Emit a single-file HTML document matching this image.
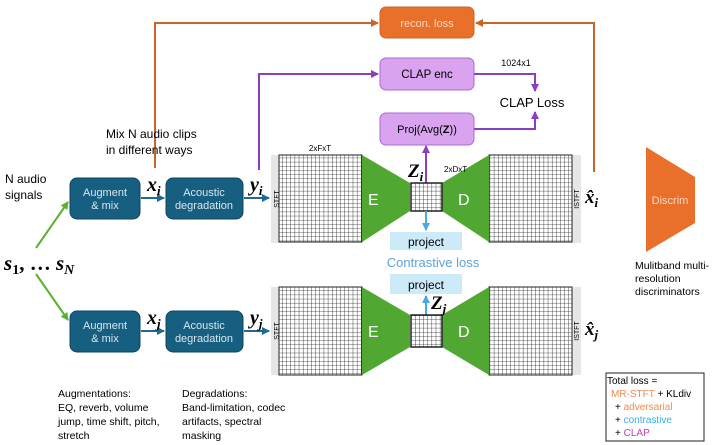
<!DOCTYPE html>
<html><head><meta charset="utf-8"><style>
body{margin:0;background:#fff;}
svg{display:block;font-family:"Liberation Sans",sans-serif;}
</style></head><body>
<svg width="718" height="445" viewBox="0 0 718 445" xmlns="http://www.w3.org/2000/svg">
<defs>
<pattern id="g" width="4.15" height="4.15" patternUnits="userSpaceOnUse"><rect width="4.15" height="4.15" fill="#fff"/><path d="M0 0H4.15M0 0V4.15" stroke="#222" stroke-width="0.8"/></pattern>
<marker id="aB" markerWidth="4" markerHeight="4" refX="3.5" refY="2" orient="auto"><path d="M0 0L4 2L0 4z" fill="#1e6a94"/></marker>
<marker id="aG" markerWidth="4" markerHeight="4" refX="3.5" refY="2" orient="auto"><path d="M0 0L4 2L0 4z" fill="#5bb031"/></marker>
<marker id="aO" markerWidth="4" markerHeight="4" refX="3.5" refY="2" orient="auto"><path d="M0 0L4 2L0 4z" fill="#c9642a"/></marker>
<marker id="aP" markerWidth="4" markerHeight="4" refX="3.5" refY="2" orient="auto"><path d="M0 0L4 2L0 4z" fill="#8a3fc0"/></marker>
<marker id="aL" markerWidth="4" markerHeight="4" refX="3.5" refY="2" orient="auto"><path d="M0 0L4 2L0 4z" fill="#4aa8e0"/></marker>
</defs>

<path d="M155 168V23H378" fill="none" stroke="#c9642a" stroke-width="2" marker-end="url(#aO)"/>
<path d="M594 172V23H476" fill="none" stroke="#c9642a" stroke-width="2" marker-end="url(#aO)"/>
<rect x="380" y="7" width="94" height="31" rx="6" fill="#e8702a" stroke="#c9642a"/>
<text x="427" y="27" font-size="11" fill="#f6d7c2" text-anchor="middle">recon. loss</text>

<path d="M259 170V74H378" fill="none" stroke="#8a3fc0" stroke-width="2" marker-end="url(#aP)"/>
<rect x="380" y="58" width="94" height="32" rx="6" fill="#d9a3f0" stroke="#a66cd0"/>
<text x="427" y="78" font-size="11.5" text-anchor="middle">CLAP enc</text>
<path d="M474 74H535V91" fill="none" stroke="#8a3fc0" stroke-width="2" marker-end="url(#aP)"/>
<text x="516" y="66" font-size="9" text-anchor="middle">1024x1</text>
<text x="532" y="107" font-size="13" text-anchor="middle">CLAP Loss</text>
<rect x="380" y="113" width="94" height="32" rx="6" fill="#d9a3f0" stroke="#a66cd0"/>
<text x="427" y="133" font-size="11" text-anchor="middle">Proj(Avg(<tspan font-weight="bold">Z</tspan>))</text>
<path d="M474 129H535V112" fill="none" stroke="#8a3fc0" stroke-width="2" marker-end="url(#aP)"/>
<path d="M426 183V146" fill="none" stroke="#8a3fc0" stroke-width="2" marker-end="url(#aP)"/>

<rect x="271" y="155" width="9" height="88" fill="#e6e6e6"/>
<rect x="572" y="155" width="9" height="88" fill="#e6e6e6"/>
<rect x="279" y="155" width="83" height="87" fill="url(#g)" stroke="#222"/>
<rect x="489" y="155" width="83" height="87" fill="url(#g)" stroke="#222"/>
<path d="M362 155L410 183V211L362 242Z" fill="#50a832"/>
<path d="M489 155L442 183V211L489 242Z" fill="#50a832"/>
<rect x="411" y="183" width="31" height="28" fill="url(#g)" stroke="#222" stroke-width="1.5"/>
<text x="368" y="205" font-size="16" fill="#fff">E</text>
<text x="458" y="205" font-size="16" fill="#fff">D</text>
<text x="320" y="151" font-size="8" text-anchor="middle">2xFxT</text>
<text x="444" y="172" font-size="8">2xDxT</text>
<text x="408" y="177" font-size="19" font-weight="bold" font-style="italic" font-family="Liberation Serif,serif">Z<tspan font-size="13" dy="4">i</tspan></text>
<text transform="translate(279,199) rotate(-90)" font-size="7" text-anchor="middle">STFT</text>
<text transform="translate(579,199) rotate(-90)" font-size="7" text-anchor="middle">ISTFT</text>
<text x="585" y="203" font-size="19" font-weight="bold" font-style="italic" font-family="Liberation Serif,serif">x̂<tspan font-size="13" dy="4">i</tspan></text>
<path d="M426 211V230" stroke="#4aa8e0" stroke-width="2" marker-end="url(#aL)"/>
<rect x="390" y="232" width="72" height="18" fill="#cdeaf8"/>
<text x="426" y="246" font-size="12" text-anchor="middle">project</text>
<text x="433" y="267" font-size="13" fill="#5ba3dc" text-anchor="middle">Contrastive loss</text>
<rect x="390" y="274" width="72" height="20" fill="#cdeaf8"/>
<text x="426" y="289" font-size="12" text-anchor="middle">project</text>
<path d="M426 315V296" stroke="#4aa8e0" stroke-width="2" marker-end="url(#aL)"/>

<rect x="271" y="287" width="9" height="88" fill="#e6e6e6"/>
<rect x="572" y="287" width="9" height="88" fill="#e6e6e6"/>
<rect x="279" y="287" width="83" height="88" fill="url(#g)" stroke="#222"/>
<rect x="489" y="287" width="83" height="88" fill="url(#g)" stroke="#222"/>
<path d="M362 287L410 315V347L362 375Z" fill="#50a832"/>
<path d="M489 287L442 315V347L489 375Z" fill="#50a832"/>
<rect x="411" y="315" width="31" height="32" fill="url(#g)" stroke="#222" stroke-width="1.5"/>
<text x="368" y="337" font-size="16" fill="#fff">E</text>
<text x="458" y="337" font-size="16" fill="#fff">D</text>
<text x="431" y="309" font-size="19" font-weight="bold" font-style="italic" font-family="Liberation Serif,serif">Z<tspan font-size="13" dy="4">j</tspan></text>
<text transform="translate(279,331) rotate(-90)" font-size="7" text-anchor="middle">STFT</text>
<text transform="translate(579,331) rotate(-90)" font-size="7" text-anchor="middle">ISTFT</text>
<text x="585" y="335" font-size="19" font-weight="bold" font-style="italic" font-family="Liberation Serif,serif">x̂<tspan font-size="13" dy="4">j</tspan></text>

<text x="5" y="183" font-size="12">N audio</text>
<text x="5" y="199" font-size="12">signals</text>
<text x="106" y="138" font-size="12">Mix N audio clips</text>
<text x="106" y="154" font-size="12">in different ways</text>
<text x="4" y="270" font-size="21" font-weight="bold" font-style="italic" font-family="Liberation Serif,serif">s<tspan font-size="14" dy="4" font-style="normal">1</tspan><tspan dy="-4" font-style="normal">, … </tspan>s<tspan font-size="14" dy="4">N</tspan></text>
<path d="M36 248L68 202" stroke="#5bb031" stroke-width="2" marker-end="url(#aG)"/>
<path d="M36 274L68 320" stroke="#5bb031" stroke-width="2" marker-end="url(#aG)"/>

<rect x="70" y="178" width="70" height="41" rx="7" fill="#175f80" stroke="#0e4660"/>
<text x="105" y="196" font-size="11" fill="#d8e6ee" text-anchor="middle">Augment</text>
<text x="105" y="209" font-size="11" fill="#d8e6ee" text-anchor="middle">&amp; mix</text>
<rect x="166" y="178" width="77" height="41" rx="7" fill="#175f80" stroke="#0e4660"/>
<text x="204" y="196" font-size="11" fill="#d8e6ee" text-anchor="middle">Acoustic</text>
<text x="204" y="209" font-size="11" fill="#d8e6ee" text-anchor="middle">degradation</text>
<path d="M141 198H164" stroke="#1e6a94" stroke-width="2" marker-end="url(#aB)"/>
<path d="M244 198H269" stroke="#1e6a94" stroke-width="2" marker-end="url(#aB)"/>
<text x="147" y="191" font-size="20" font-weight="bold" font-style="italic" font-family="Liberation Serif,serif">x<tspan font-size="13" dy="4">i</tspan></text>
<text x="250" y="191" font-size="20" font-weight="bold" font-style="italic" font-family="Liberation Serif,serif">y<tspan font-size="13" dy="4">i</tspan></text>

<rect x="70" y="311" width="70" height="41" rx="7" fill="#175f80" stroke="#0e4660"/>
<text x="105" y="329" font-size="11" fill="#d8e6ee" text-anchor="middle">Augment</text>
<text x="105" y="342" font-size="11" fill="#d8e6ee" text-anchor="middle">&amp; mix</text>
<rect x="166" y="311" width="77" height="41" rx="7" fill="#175f80" stroke="#0e4660"/>
<text x="204" y="329" font-size="11" fill="#d8e6ee" text-anchor="middle">Acoustic</text>
<text x="204" y="342" font-size="11" fill="#d8e6ee" text-anchor="middle">degradation</text>
<path d="M141 331H164" stroke="#1e6a94" stroke-width="2" marker-end="url(#aB)"/>
<path d="M244 331H269" stroke="#1e6a94" stroke-width="2" marker-end="url(#aB)"/>
<text x="147" y="324" font-size="20" font-weight="bold" font-style="italic" font-family="Liberation Serif,serif">x<tspan font-size="13" dy="4">j</tspan></text>
<text x="250" y="324" font-size="20" font-weight="bold" font-style="italic" font-family="Liberation Serif,serif">y<tspan font-size="13" dy="4">j</tspan></text>

<g font-size="10.5">
<text x="58" y="397">Augmentations:</text>
<text x="58" y="411">EQ, reverb, volume</text>
<text x="58" y="425">jump, time shift, pitch,</text>
<text x="58" y="439">stretch</text>
<text x="182" y="397">Degradations:</text>
<text x="182" y="411">Band-limitation, codec</text>
<text x="182" y="425">artifacts, spectral</text>
<text x="182" y="439">masking</text>
</g>

<path d="M646 147L695 177V223L646 252Z" fill="#e8702a"/>
<text x="670" y="204" font-size="11" fill="#f6d7c2" text-anchor="middle">Discrim</text>
<g font-size="10.5">
<text x="635" y="269">Mulitband multi-</text>
<text x="635" y="282">resolution</text>
<text x="635" y="295">discriminators</text>
</g>

<rect x="606" y="373" width="98" height="68" fill="#fff" stroke="#222"/>
<g font-size="10">
<text x="607" y="384">Total loss =</text>
<text x="611" y="397"><tspan fill="#f08a50">MR-STFT</tspan> + KLdiv</text>
<text x="615" y="410">+ <tspan fill="#f08a50">adversarial</tspan></text>
<text x="615" y="423">+ <tspan fill="#3aaee8">contrastive</tspan></text>
<text x="615" y="436">+ <tspan fill="#c040b8">CLAP</tspan></text>
</g>
</svg>
</body></html>
